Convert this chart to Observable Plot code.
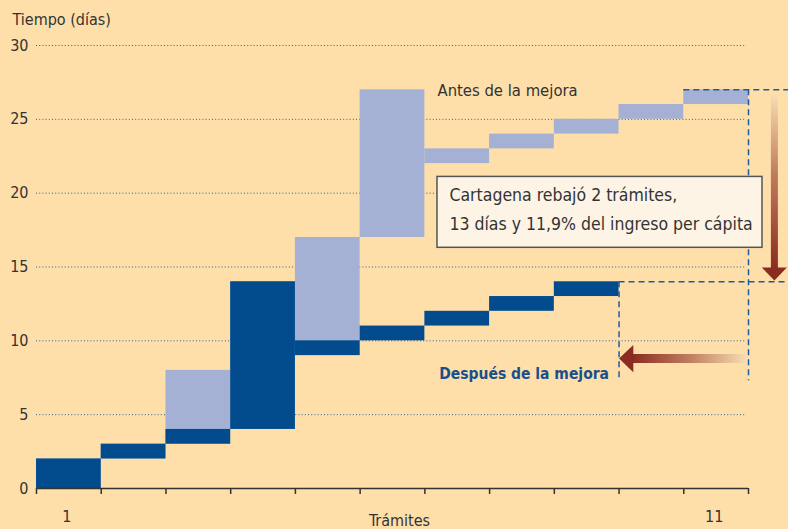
<!DOCTYPE html>
<html><head><meta charset="utf-8">
<script src="https://cdn.jsdelivr.net/npm/d3@7"></script>
<script src="https://cdn.jsdelivr.net/npm/@observablehq/plot@0.6"></script>
<style>
html,body{margin:0;padding:0;background:#fedfaa;}
#chart svg{display:block;}
</style>
</head><body><div id="chart"></div>
<script>
// Trámites (x bands) and durations in days
const tramites = [1,2,3,4,5,6,7,8,9,10,11];
const antesInicio = [0,2,3,4,9,17,22,23,24,25,26];
const antesFin    = [2,3,8,14,17,27,23,24,25,26,27];
const despuesTramites = [1,2,3,4,5,6,7,8,9];
const despuesInicio = [0,2,3,4,9,10,11,12,13];
const despuesFin    = [2,3,4,14,10,11,12,13,14];
const yTicks = [0,5,10,15,20,25,30];
const gridValues = [5,10,15,20,25,30];
const xTickValues = [0,1,2,3,4,5,6,7,8,9,10,11];
const xLabelTramites = [1,11];
const xLabelTexts = ["1","11"];
const totalAntes = 27;
const totalDespues = 14;
const boxLines = ["Cartagena rebajó 2 trámites,", "13 días y 11,9% del ingreso per cápita"];

const antes = tramites.map((t,i)=>({t, y1: antesInicio[i], y2: antesFin[i]}));
const despues = despuesTramites.map((t,i)=>({t, y1: despuesInicio[i], y2: despuesFin[i]}));
const xLabels = xLabelTramites.map((t,i)=>({x: t-0.5, label: xLabelTexts[i]}));

const FONT = "'Liberation Sans Narrow','DejaVu Sans Condensed','Open Sans',sans-serif";
const DARK = "#024b8d", LIGHT = "#a4b1d4", DASH = "#1f5b9b", ARROW = "#8a2c20";

const rightEdge = 11.62;
const dropX = 11.40;
const leftArrowY = 8.80;

const chart = Plot.plot({
  width: 788, height: 529,
  marginTop: 45, marginBottom: 41, marginLeft: 36, marginRight: 40,
  style: {fontFamily: FONT, fontSize: "16px", color: "#333", background: "#fedfaa", overflow: "visible"},
  x: {domain: [0, 11], axis: null},
  y: {domain: [0, 30], axis: null},
  marks: [
    Plot.ruleY(gridValues, {x1: 0, x2: 10.96, stroke: "#2d5f95", strokeWidth: 1, strokeDasharray: "1,2.2"}),
    Plot.rect(antes, {x1: d=>d.t-1, x2: d=>d.t, y1: "y1", y2: "y2", fill: LIGHT}),
    Plot.rect(despues, {x1: d=>d.t-1, x2: d=>d.t, y1: "y1", y2: "y2", fill: DARK}),
    Plot.axisY({ticks: yTicks, tickSize: 0, tickPadding: 8, fontSize: 16, fill: "#333", label: null}),
    Plot.ruleY([0], {x1: 0, x2: 11, stroke: "#333", strokeWidth: 1.5}),
    Plot.axisX({ticks: xTickValues, tickSize: 6, tickFormat: () => "", stroke: "#333", strokeWidth: 1.5, label: null}),
    Plot.text(xLabels, {x: "x", y: 0, text: "label", dy: 28, dx: -2, fontSize: 16, fill: "#333"}),
    Plot.text(["Trámites"], {frameAnchor: "bottom", dx: 7, dy: 32, lineAnchor: "middle", fontSize: 16, fill: "#333"}),
    Plot.text(["Tiempo (días)"], {frameAnchor: "top-left", dx: -24, dy: -26, lineAnchor: "middle", textAnchor: "start", fontSize: 16, fill: "#333"}),
    // dashed reference lines
    Plot.ruleX([11], {y1: totalAntes, y2: 7.3, stroke: DASH, strokeWidth: 1.5, strokeDasharray: "6,4"}),
    Plot.ruleX([9], {y1: totalDespues, y2: 7.3, stroke: DASH, strokeWidth: 1.5, strokeDasharray: "6,4"}),
    Plot.ruleY([totalAntes], {x1: 10, x2: rightEdge, stroke: DASH, strokeWidth: 1.5, strokeDasharray: "6,4"}),
    Plot.ruleY([totalDespues], {x1: 9, x2: rightEdge, stroke: DASH, strokeWidth: 1.5, strokeDasharray: "6,4"}),
    // arrows
    Plot.link([0], {x1: dropX, x2: dropX, y1: 26.6, y2: 14.9, stroke: "url(#gradV)", strokeWidth: 7}),
    Plot.line([[dropX-0.193, 14.96],[dropX+0.193, 14.96],[dropX, 14.08],[dropX-0.193, 14.96]], {fill: ARROW, stroke: "none"}),
    Plot.link([0], {x1: 10.98, x2: 9.2, y1: leftArrowY, y2: leftArrowY, stroke: "url(#gradH)", strokeWidth: 9}),
    Plot.line([[9.22, leftArrowY+0.92],[9.22, leftArrowY-0.92],[9.0, leftArrowY],[9.22, leftArrowY+0.92]], {fill: ARROW, stroke: "none"}),
    // annotations
    Plot.text(["Antes de la mejora"], {x: 6.195, y: 26.95, textAnchor: "start", fontSize: 16.5, fill: "#333"}),
    Plot.rect([0], {x1: 6.195, x2: 11.216, y1: 21.1, y2: 16.3, fill: "#fdf4e6", stroke: "#555", strokeWidth: 1.5}),
    Plot.text(boxLines, {x: 6.38, y: (d,i)=> i === 0 ? 19.84 : 17.87, textAnchor: "start", fontSize: 17.5, fill: "#333"}),
    Plot.text(["Después de la mejora"], {x: 8.845, y: 7.72, textAnchor: "end", fontSize: 15.5, fontWeight: "bold", fill: "#1a4f8e"})
  ]
});

// gradients in screen space, from the chart's own scales
const sx = chart.scale("x"), sy = chart.scale("y");
const svg = d3.select(chart);
const defs = svg.insert("defs", ":first-child");
const gv = defs.append("linearGradient").attr("id", "gradV").attr("gradientUnits", "userSpaceOnUse")
  .attr("x1", 0).attr("x2", 0).attr("y1", sy.apply(26.6)).attr("y2", sy.apply(14.9));
gv.append("stop").attr("offset", 0).attr("stop-color", "#f6dcb2");
gv.append("stop").attr("offset", 0.45).attr("stop-color", "#c07d5f");
gv.append("stop").attr("offset", 1).attr("stop-color", ARROW);
const gh = defs.append("linearGradient").attr("id", "gradH").attr("gradientUnits", "userSpaceOnUse")
  .attr("y1", 0).attr("y2", 0).attr("x1", sx.apply(10.98)).attr("x2", sx.apply(9.2));
gh.append("stop").attr("offset", 0).attr("stop-color", "#f8dfb4");
gh.append("stop").attr("offset", 0.5).attr("stop-color", "#c07d5f");
gh.append("stop").attr("offset", 1).attr("stop-color", ARROW);

document.getElementById("chart").append(chart);
</script>
</body></html>
